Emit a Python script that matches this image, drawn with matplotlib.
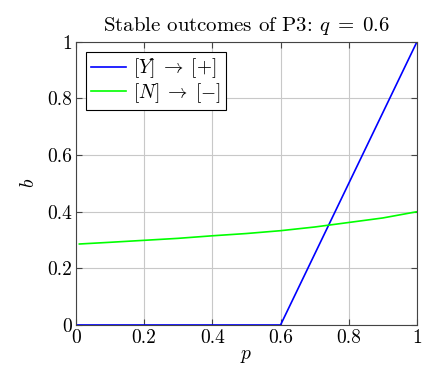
import matplotlib
matplotlib.use("Agg")
import matplotlib.pyplot as plt

plt.rcParams.update({
    "font.family": "serif",
    "font.serif": ["cmr10", "DejaVu Serif"],
    "mathtext.fontset": "cm",
    "axes.unicode_minus": False,
    "font.size": 14,
})

# data
p_yes = [0.0, 0.6, 1.0]
b_yes = [0.0, 0.0, 1.0]

p_no = [0.01, 0.1, 0.2, 0.3, 0.4, 0.5, 0.6, 0.7, 0.8, 0.9, 1.0]
b_no = [0.286, 0.292, 0.299, 0.306, 0.315, 0.323, 0.333, 0.346, 0.362, 0.378, 0.4]

ticks = [0, 0.2, 0.4, 0.6, 0.8, 1]
tick_labels = ["0", "0.2", "0.4", "0.6", "0.8", "1"]

fig = plt.figure(figsize=(4.22, 3.77), dpi=100)
ax = fig.add_axes([0.180, 0.138, 0.808, 0.751])

ax.plot(p_yes, b_yes, color="#0000ff", lw=1.2, label=r"$[Y]\;\rightarrow\;[+]$")
ax.plot(p_no, b_no, color="#00ff00", lw=1.2, label=r"$[N]\;\rightarrow\;[-]$")

ax.set_xlim(0, 1)
ax.set_ylim(0, 1)
ax.set_xticks(ticks)
ax.set_xticklabels(tick_labels)
ax.set_yticks(ticks)
ax.set_yticklabels(tick_labels)
ax.tick_params(direction="in", top=True, right=True, length=4, color="#444444",
               labelsize=14, pad=3)
ax.grid(True, color="#c8c8c8", linewidth=0.8)
for s in ax.spines.values():
    s.set_color("#444444")

ax.set_xlabel(r"$p$", labelpad=0)
ax.set_ylabel(r"$b$", labelpad=6)
ax.set_title(r"Stable outcomes of P3: $q\;=\;0.6$", pad=8, fontsize=15)

leg = ax.legend(loc="upper left", fancybox=False, edgecolor="black",
                framealpha=1, borderaxespad=0.5, handlelength=1.8,
                handletextpad=0.4, labelspacing=0.05, borderpad=0.25,
                fontsize=14)
leg.get_frame().set_linewidth(0.8)

fig.savefig("out.png", dpi=100)
